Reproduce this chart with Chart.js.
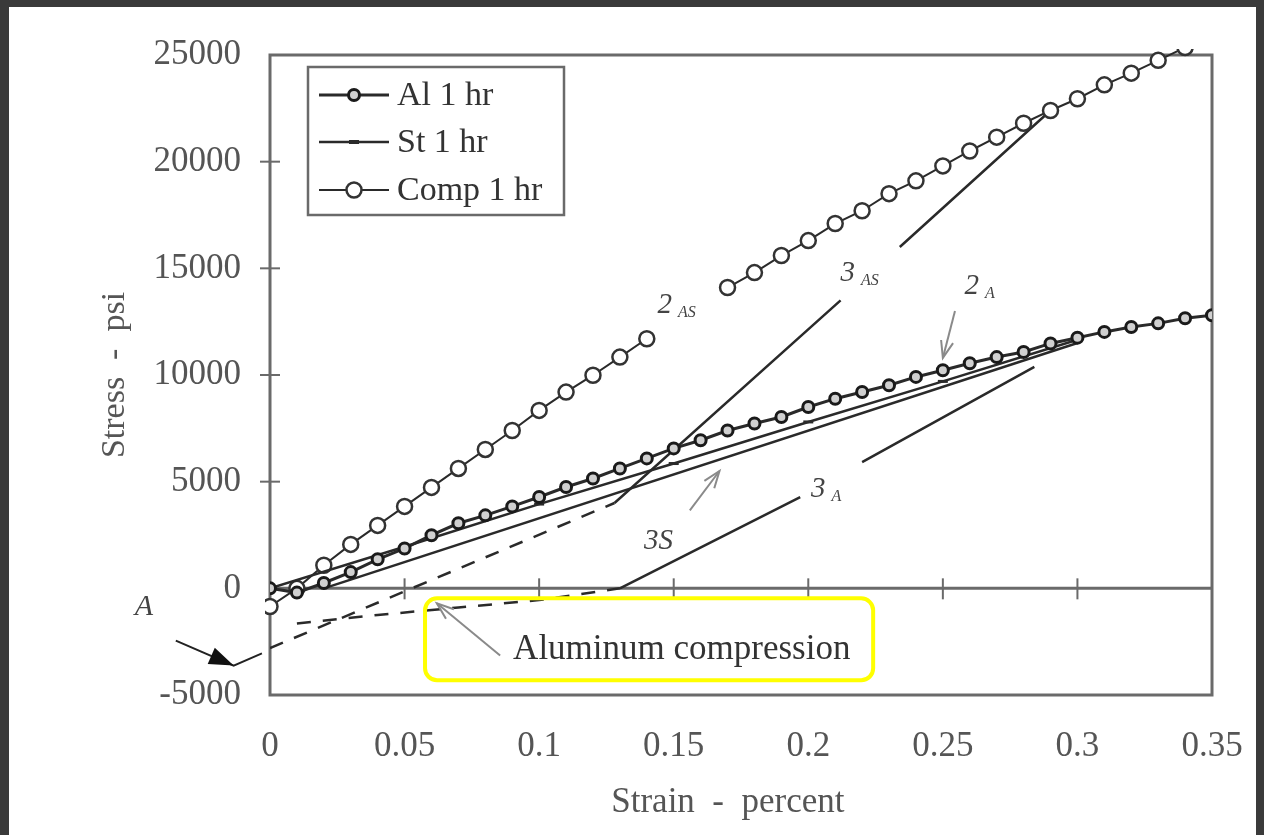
<!DOCTYPE html>
<html>
<head>
<meta charset="utf-8">
<title>Stress - strain</title>
<script src="https://cdn.jsdelivr.net/npm/chart.js@4.4.1/dist/chart.umd.min.js"></script>
<style>
  html, body { margin: 0; padding: 0; background: #3a3a3a; overflow: hidden; }
  #paper { position: absolute; left: 9px; top: 7px; width: 1247px; height: 828px; background: #fff; }
  #wrap { position: absolute; left: 0; top: 0; width: 1264px; height: 835px; }
</style>
</head>
<body>
<div id="paper"></div>
<div id="wrap"><canvas id="chart" width="1264" height="835"></canvas></div>
<script>
(function () {
  "use strict";

  /* ── Data (strain in percent, stress in psi) ─────────── */

  var strain = [0, 0.01, 0.02, 0.03, 0.04, 0.05, 0.06, 0.07, 0.08, 0.09,
                0.10, 0.11, 0.12, 0.13, 0.14, 0.15, 0.16, 0.17, 0.18, 0.19,
                0.20, 0.21, 0.22, 0.23, 0.24, 0.25, 0.26, 0.27, 0.28, 0.29,
                0.30, 0.31, 0.32, 0.33, 0.34, 0.35];

  var alStress = [0, -200, 250, 760, 1360, 1870, 2490, 3050, 3420, 3840,
                  4280, 4750, 5150, 5620, 6090, 6560, 6940, 7400, 7730, 8030,
                  8500, 8890, 9200, 9520, 9910, 10220, 10550, 10840, 11080, 11480,
                  11750, 12020, 12250, 12420, 12660, 12800];

  var compStress = [-850, 0, 1080, 2060, 2950, 3840, 4730, 5620, 6510, 7400,
                    8340, 9200, 9990, 10840, 11700, null, null, 14100, 14800, 15600,
                    16300, 17100, 17700, 18500, 19100, 19800, 20500, 21150, 21800, 22400,
                    22950, 23600, 24150, 24750, 25350, null];

  var stStrain = [0, 0.05, 0.10, 0.15, 0.20, 0.25, 0.30];
  var stStress = [0, 1950, 3950, 5850, 7800, 9700, 11650];

  // construction lines drawn on the figure
  var line3sStrain = [0.02, 0.30];
  var line3sStress = [0, 11500];

  var line3aStrain = [0.13, 0.197, 0.208, 0.22, 0.284];
  var line3aStress = [0, 4280, null, 5920, 10380];

  var line3asStrain = [0.128, 0.212, 0.223, 0.234, 0.29];
  var line3asStress = [4000, 13500, null, 16000, 22400];

  var lineAStrain = [0, 0.128];
  var lineAStress = [-2800, 4000];

  var comprStrain = [0.01, 0.04, 0.07, 0.10, 0.13];
  var comprStress = [-1650, -1250, -900, -550, 0];

  var xTicks = [0, 0.05, 0.1, 0.15, 0.2, 0.25, 0.3, 0.35];
  var yTicks = [-5000, 0, 5000, 10000, 15000, 20000, 25000];

  // curve labels: main text + subscript, anchored in data units
  var noteText = ["2", "3", "2", "3", "3S"];
  var noteSub = ["AS", "AS", "A", "A", ""];
  var noteX = [0.144, 0.212, 0.258, 0.201, 0.139];
  var noteY = [12900, 14400, 13800, 4300, 1850];

  var calloutText = "Aluminum compression";
  var calloutX = 0.153;
  var calloutY = -2880;

  var markAText = "A";
  var markAX = -0.0465;
  var markAY = -800;

  // gray pointer arrows (from -> to)
  var arrowFromX = [0.2545, 0.156, 0.0855];
  var arrowFromY = [13000, 3650, -3150];
  var arrowToX = [0.25, 0.167, 0.062];
  var arrowToY = [10800, 5500, -700];

  // black arrow next to "A", then a leader to the dashed line
  var arrowAX = [-0.035, -0.0135, -0.003];
  var arrowAY = [-2450, -3620, -3050];

  // yellow highlight box
  var boxX = [0.0576, 0.2241];
  var boxY = [-470, -4310];

  /* ── Helpers ─────────────────────────────────────────── */

  var SERIF = "'Liberation Serif', 'DejaVu Serif', serif";
  var INK = "#2a2a2a";
  var AXIS = "#6a6a6a";

  function pairs(xs, ys) {
    return xs.map(function (x, i) { return { x: x, y: ys[i] }; });
  }

  function refLine(xs, ys, dashed) {
    return {
      label: "",
      data: pairs(xs, ys),
      borderColor: INK,
      borderWidth: 2.5,
      borderDash: dashed ? [14, 12] : [],
      pointRadius: 0,
      spanGaps: false,
      fill: false,
      tension: 0
    };
  }

  function fmt(v) {
    return String(parseFloat(Number(v).toFixed(3)));
  }

  /* ── Decorations plugin ─────────────────────────────── */

  function arrowHead(ctx, x1, y1, x2, y2, size, filled) {
    var a = Math.atan2(y2 - y1, x2 - x1);
    ctx.beginPath();
    ctx.moveTo(x2 - size * Math.cos(a - 0.35), y2 - size * Math.sin(a - 0.35));
    ctx.lineTo(x2, y2);
    ctx.lineTo(x2 - size * Math.cos(a + 0.35), y2 - size * Math.sin(a + 0.35));
    if (filled) { ctx.closePath(); ctx.fill(); } else { ctx.stroke(); }
  }

  var decor = {
    id: "decor",
    beforeDatasetsDraw: function (chart) {
      var ctx = chart.ctx, ca = chart.chartArea;
      var sx = chart.scales.x, sy = chart.scales.y;
      ctx.save();
      ctx.strokeStyle = AXIS;
      ctx.lineWidth = 3;
      ctx.strokeRect(ca.left, ca.top, ca.right - ca.left, ca.bottom - ca.top);

      // zero line with crossing ticks
      var y0 = sy.getPixelForValue(0);
      ctx.beginPath();
      ctx.moveTo(ca.left, y0);
      ctx.lineTo(ca.right, y0);
      ctx.stroke();
      ctx.lineWidth = 2;
      xTicks.forEach(function (v) {
        if (v <= 0 || v >= 0.35) return;
        var px = sx.getPixelForValue(v);
        ctx.beginPath();
        ctx.moveTo(px, y0 - 10);
        ctx.lineTo(px, y0 + 11);
        ctx.stroke();
      });
      yTicks.forEach(function (v) {
        if (v === 25000 || v === -5000 || v === 0) return;
        var py = sy.getPixelForValue(v);
        ctx.beginPath();
        ctx.moveTo(ca.left - 10, py);
        ctx.lineTo(ca.left + 10, py);
        ctx.stroke();
      });
      ctx.restore();
    },
    afterDraw: function (chart) {
      var ctx = chart.ctx, ca = chart.chartArea;
      var sx = chart.scales.x, sy = chart.scales.y;
      ctx.save();

      // curve labels
      ctx.fillStyle = "#444";
      ctx.textBaseline = "alphabetic";
      noteText.forEach(function (t, i) {
        var px = sx.getPixelForValue(noteX[i]);
        var py = sy.getPixelForValue(noteY[i]);
        ctx.font = "italic 29px " + SERIF;
        ctx.fillText(t, px, py);
        if (noteSub[i]) {
          var w = ctx.measureText(t).width;
          ctx.font = "italic 16px " + SERIF;
          ctx.fillText(noteSub[i], px + w + 6, py + 4);
        }
      });

      ctx.font = "italic 30px " + SERIF;
      ctx.fillText(markAText, sx.getPixelForValue(markAX) - 10, sy.getPixelForValue(markAY) + 10);

      ctx.font = "35px " + SERIF;
      ctx.fillStyle = "#333";
      ctx.textAlign = "center";
      ctx.textBaseline = "middle";
      ctx.fillText(calloutText, sx.getPixelForValue(calloutX), sy.getPixelForValue(calloutY));

      // gray pointer arrows
      ctx.strokeStyle = "#8a8a8a";
      ctx.lineWidth = 2;
      arrowFromX.forEach(function (fx, i) {
        var x1 = sx.getPixelForValue(fx), y1 = sy.getPixelForValue(arrowFromY[i]);
        var x2 = sx.getPixelForValue(arrowToX[i]), y2 = sy.getPixelForValue(arrowToY[i]);
        ctx.beginPath();
        ctx.moveTo(x1, y1);
        ctx.lineTo(x2, y2);
        ctx.stroke();
        arrowHead(ctx, x1, y1, x2, y2, 18, false);
      });

      // black arrow for "A"
      var ax = arrowAX.map(function (v) { return sx.getPixelForValue(v); });
      var ay = arrowAY.map(function (v) { return sy.getPixelForValue(v); });
      ctx.strokeStyle = "#222";
      ctx.fillStyle = "#111";
      ctx.lineWidth = 2;
      ctx.beginPath();
      ctx.moveTo(ax[0], ay[0]);
      ctx.lineTo(ax[1], ay[1]);
      ctx.lineTo(ax[2], ay[2]);
      ctx.stroke();
      arrowHead(ctx, ax[0], ay[0], ax[1], ay[1], 26, true);

      // yellow highlight
      var bx1 = sx.getPixelForValue(boxX[0]), bx2 = sx.getPixelForValue(boxX[1]);
      var by1 = sy.getPixelForValue(boxY[0]), by2 = sy.getPixelForValue(boxY[1]);
      ctx.strokeStyle = "#ffff00";
      ctx.lineWidth = 4;
      ctx.beginPath();
      ctx.roundRect(bx1, by1, bx2 - bx1, by2 - by1, 12);
      ctx.stroke();

      // legend box
      var lx = ca.left + 38, ly = ca.top + 12, lw = 256, lh = 148;
      ctx.fillStyle = "#fff";
      ctx.fillRect(lx, ly, lw, lh);
      ctx.strokeStyle = AXIS;
      ctx.lineWidth = 2.5;
      ctx.strokeRect(lx, ly, lw, lh);

      var rows = [28, 75, 123];
      chart.data.datasets.slice(0, 3).forEach(function (ds, i) {
        var ry = ly + rows[i];
        ctx.strokeStyle = INK;
        ctx.lineWidth = ds.borderWidth;
        ctx.beginPath();
        ctx.moveTo(lx + 11, ry);
        ctx.lineTo(lx + 81, ry);
        ctx.stroke();
        if (ds.pointStyle === "line") {
          ctx.lineWidth = 4;
          ctx.beginPath();
          ctx.moveTo(lx + 41, ry);
          ctx.lineTo(lx + 51, ry);
          ctx.stroke();
        } else {
          ctx.beginPath();
          ctx.arc(lx + 46, ry, ds.pointRadius, 0, Math.PI * 2);
          ctx.fillStyle = ds.pointBackgroundColor;
          ctx.fill();
          ctx.lineWidth = ds.pointBorderWidth;
          ctx.strokeStyle = ds.pointBorderColor;
          ctx.stroke();
        }
        ctx.fillStyle = "#333";
        ctx.font = "34px " + SERIF;
        ctx.textAlign = "left";
        ctx.textBaseline = "middle";
        ctx.fillText(ds.label, lx + 89, ry + 1);
      });

      ctx.restore();
    }
  };

  /* ── Chart ──────────────────────────────────────────── */

  var datasets = [
    {
      label: "Al 1 hr",
      data: pairs(strain, alStress),
      borderColor: INK,
      borderWidth: 3,
      pointRadius: 5.5,
      pointBorderWidth: 3,
      pointBorderColor: "#1a1a1a",
      pointBackgroundColor: "#d0d0d0",
      tension: 0
    },
    {
      label: "St 1 hr",
      data: pairs(stStrain, stStress),
      borderColor: INK,
      borderWidth: 2.5,
      pointStyle: "line",
      pointRadius: 5,
      pointBorderWidth: 3,
      pointBorderColor: INK,
      pointBackgroundColor: INK,
      tension: 0
    },
    {
      label: "Comp 1 hr",
      data: pairs(strain, compStress),
      borderColor: INK,
      borderWidth: 2,
      pointRadius: 7.5,
      pointBorderWidth: 2.5,
      pointBorderColor: "#333",
      pointBackgroundColor: "#fff",
      spanGaps: false,
      clip: { left: 5, right: 5, top: 6, bottom: 5 },
      tension: 0
    },
    refLine(line3sStrain, line3sStress, false),
    refLine(line3aStrain, line3aStress, false),
    refLine(line3asStrain, line3asStress, false),
    refLine(lineAStrain, lineAStress, true),
    refLine(comprStrain, comprStress, true)
  ];

  new Chart(document.getElementById("chart"), {
    type: "line",
    data: { datasets: datasets },
    options: {
      responsive: false,
      animation: false,
      layout: { padding: { left: 95, right: 52, top: 55, bottom: 11 } },
      plugins: {
        legend: { display: false },
        tooltip: { enabled: false }
      },
      scales: {
        x: {
          type: "linear",
          min: 0,
          max: 0.35,
          afterFit: function (s) {
            s.height = 129;
            s.paddingLeft = 0;
            s.paddingRight = 0;
          },
          afterBuildTicks: function (s) {
            s.ticks = xTicks.map(function (v) { return { value: v }; });
          },
          grid: { display: false, drawTicks: false },
          border: { display: false },
          ticks: {
            color: "#555",
            padding: 31,
            maxRotation: 0,
            font: { family: SERIF, size: 35 },
            callback: function (v) { return fmt(v); }
          },
          title: {
            display: true,
            text: "Strain  -  percent   ",
            color: "#555",
            padding: 0,
            font: { family: SERIF, size: 35 }
          }
        },
        y: {
          type: "linear",
          min: -5000,
          max: 25000,
          afterFit: function (s) {
            s.width = 175;
            s.paddingTop = 0;
            s.paddingBottom = 0;
          },
          afterBuildTicks: function (s) {
            s.ticks = yTicks.map(function (v) { return { value: v }; });
          },
          grid: { display: false, drawTicks: false },
          border: { display: false },
          ticks: {
            color: "#555",
            padding: 29,
            font: { family: SERIF, size: 35 },
            callback: function (v) { return fmt(v); }
          },
          title: {
            display: true,
            text: "Stress  -  psi",
            color: "#555",
            padding: 0,
            font: { family: SERIF, size: 34 }
          }
        }
      }
    },
    plugins: [decor]
  });
})();
</script>
</body>
</html>
